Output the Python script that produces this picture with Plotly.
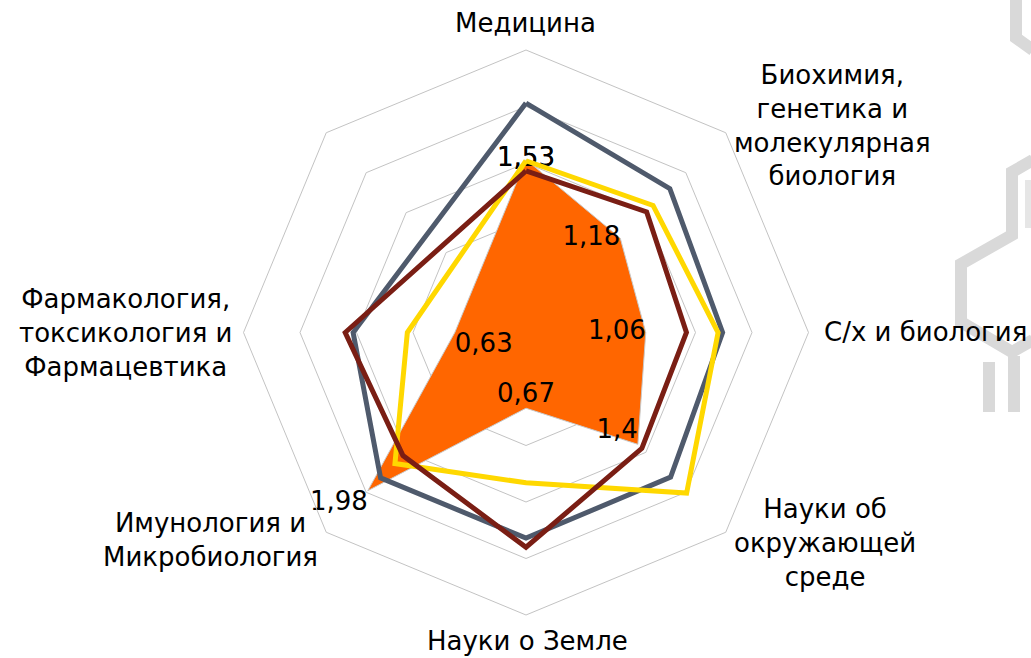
import plotly.graph_objects as go

# ---- data ----
categories = [
    "Медицина",
    "Биохимия,<br>генетика и<br>молекулярная<br>биология",
    "С/х и биология",
    "Науки об<br>окружающей<br>среде",
    "Науки о Земле",
    "Имунология и<br>Микробиология",
    "Фармакология,<br>токсикология и<br>Фармацевтика",
]
extra_axis_slot = " "  # unlabeled 8th axis of the grid

orange_vals = [1.53, 1.18, 1.06, 1.40, 0.67, 1.98, 0.63]
orange_text = ["1,53", "1,18", "1,06", "1,4", "0,67", "1,98", "0,63"]
blue_vals = [2.03, 1.80, 1.74, 1.81, 1.82, 1.82, 1.53]
yellow_vals = [1.52, 1.59, 1.70, 2.01, 1.33, 1.64, 1.05]
red_vals = [1.43, 1.51, 1.42, 1.45, 1.90, 1.54, 1.60]

W, H = 1031, 658
FONT = "DejaVu Sans"


def closed(v):
    return list(v) + [v[0]]


theta = closed(categories)

fig = go.Figure()

fig.add_trace(go.Scatterpolar(
    r=closed(orange_vals), theta=theta, mode="lines+text",
    fill="toself", fillcolor="#ff6600",
    line=dict(color="#c9c9c9", width=1),
    text=closed(orange_text),
    textposition=["middle center", "middle left", "middle left", "top left",
                  "top center", "bottom left", "bottom right", "middle center"],
    textfont=dict(family=FONT, size=26, color="#000000"),
    showlegend=False,
))
fig.add_trace(go.Scatterpolar(
    r=closed(blue_vals), theta=theta, mode="lines",
    line=dict(color="#4f5a6c", width=5), showlegend=False,
))
fig.add_trace(go.Scatterpolar(
    r=closed(yellow_vals), theta=theta, mode="lines",
    line=dict(color="#ffd800", width=5), showlegend=False,
))
fig.add_trace(go.Scatterpolar(
    r=closed(red_vals), theta=theta, mode="lines",
    line=dict(color="#7a1e14", width=5), showlegend=False,
))

cx, cy, R = 526, 332.5, 282.5
fig.update_layout(
    width=W, height=H,
    margin=dict(l=0, r=0, t=0, b=0),
    paper_bgcolor="white",
    polar=dict(
        domain=dict(x=[(cx - R) / W, (cx + R) / W],
                    y=[1 - (cy + R) / H, 1 - (cy - R) / H]),
        bgcolor="white",
        gridshape="linear",
        radialaxis=dict(range=[0, 2.5], dtick=0.5, tick0=0,
                        showticklabels=False, showline=False, ticks="",
                        gridcolor="#c3c3c3", gridwidth=1),
        angularaxis=dict(type="category",
                         categoryorder="array",
                         categoryarray=categories + [extra_axis_slot],
                         rotation=90, direction="clockwise",
                         showgrid=False, showticklabels=False, ticks="",
                         showline=True, linecolor="#c3c3c3", linewidth=1),
    ),
)

# category labels (positions in pixels)
label_pos = [
    (525, 23, "center"),
    (832, 125, "center"),
    (822, 332, "left"),
    (825, 543, "center"),
    (527, 641, "center"),
    (210, 540, "center"),
    (125, 333, "center"),
]
for cat, (px, py, xa) in zip(categories, label_pos):
    fig.add_annotation(
        text=cat, x=px / W, y=1 - py / H, xref="paper", yref="paper",
        xanchor=xa, yanchor="middle", align="center", showarrow=False,
        font=dict(family=FONT, size=26, color="#000000"),
    )

# light grey molecule watermark on the right
wm_paths = [
    [(1016, 0), (1016, 38), (1033, 50)],
    [(1033, 160), (1012, 172), (1012, 235), (961, 264), (961, 322), (1012, 352), (1033, 340)],
    [(989, 362), (989, 412)],
    [(1014, 356), (1014, 412)],
]
for pts in wm_paths:
    d = "M " + " L ".join(f"{x / W:.5f},{1 - y / H:.5f}" for x, y in pts)
    fig.add_shape(type="path", path=d, xref="paper", yref="paper",
                  line=dict(color="#d9d9d9", width=12), layer="below")
fig.add_shape(type="path",
              path="M {:.5f},{:.5f} L {:.5f},{:.5f}".format(1028 / W, 1 - 180 / H, 1028 / W, 1 - 228 / H),
              xref="paper", yref="paper", line=dict(color="#e6e6e6", width=6), layer="below")

fig.write_html(
    "out.html",
    config={"displayModeBar": False},
    post_script="document.body.style.margin='0';document.body.style.overflow='hidden';",
)
